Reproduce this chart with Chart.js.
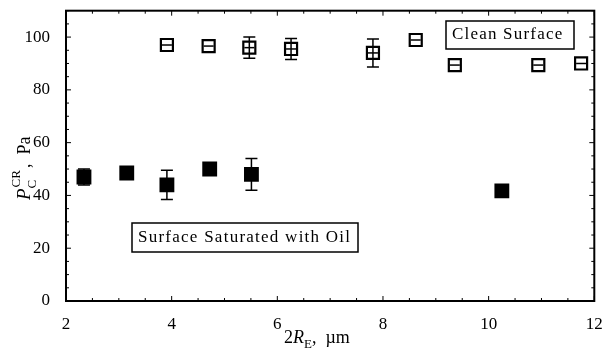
<!DOCTYPE html>
<html>
<head>
<meta charset="utf-8">
<script src="https://cdn.jsdelivr.net/npm/chart.js@4"></script>
<style>
  body { margin: 0; background: #fff; }
  #wrap { width: 605px; height: 348px; }
</style>
</head>
<body>
<div id="wrap"><canvas id="grafico"></canvas></div>
<script>
// clean surface (open squares)
const cleanX = [3.91, 4.70, 5.47, 6.26, 7.81, 8.62, 9.36, 10.94, 11.75];
const cleanY = [97, 96.6, 96, 95.5, 94, 98.9, 89.4, 89.4, 90];
const cleanErr = [1, 1, 4, 4, 5.3, 1, 1, 1, 1];
// surface saturated with oil (filled squares)
const oilX = [2.34, 3.15, 3.91, 4.72, 5.51, 10.25];
const oilY = [47, 48.5, 44, 50, 48, 41.7];
const oilErr = [3, 1, 5.5, 1.5, 6, 1];
const xTicks = [2, 4, 6, 8, 10, 12];
const yTicks = [0, 20, 40, 60, 80, 100];

const FONT = '"Liberation Serif", "DejaVu Serif", serif';

function pontos(xs, ys) {
    return xs.map((x, i) => ({ x: x, y: ys[i] }));
}

// error bars, inward ticks, text boxes, axis titles
const extras = {
    id: 'extras',
    afterDatasetsDraw(chart) {
        const ctx = chart.ctx;
        const sx = chart.scales.x, sy = chart.scales.y;
        const a = chart.chartArea;
        ctx.save();
        ctx.strokeStyle = '#000';
        ctx.lineWidth = 1.5;

        function barras(xs, ys, errs) {
            xs.forEach((x, i) => {
                if (errs[i] < 2) return;
                const px = sx.getPixelForValue(x);
                const top = sy.getPixelForValue(ys[i] + errs[i]);
                const bot = sy.getPixelForValue(ys[i] - errs[i]);
                ctx.beginPath();
                ctx.moveTo(px, top); ctx.lineTo(px, bot);
                ctx.moveTo(px - 6, top); ctx.lineTo(px + 6, top);
                ctx.moveTo(px - 6, bot); ctx.lineTo(px + 6, bot);
                ctx.stroke();
            });
        }
        barras(cleanX, cleanY, cleanErr);
        barras(oilX, oilY, oilErr);

        // line inside open squares
        ctx.lineWidth = 1.5;
        cleanX.forEach((x, i) => {
            const px = sx.getPixelForValue(x);
            const py = sy.getPixelForValue(cleanY[i]);
            ctx.beginPath();
            ctx.moveTo(px - 5, py); ctx.lineTo(px + 5, py);
            ctx.stroke();
        });

        // frame
        ctx.lineWidth = 2;
        ctx.strokeRect(a.left, a.top, a.right - a.left, a.bottom - a.top);

        // inward ticks
        ctx.lineWidth = 1;
        for (let v = 2; v <= 12; v += 0.5) {
            const px = sx.getPixelForValue(v);
            const len = Number.isInteger(v / 2) ? 5 : 3;
            ctx.beginPath();
            ctx.moveTo(px, a.bottom); ctx.lineTo(px, a.bottom - len);
            ctx.moveTo(px, a.top); ctx.lineTo(px, a.top + len);
            ctx.stroke();
        }
        for (let v = 0; v <= 110; v += 5) {
            const py = sy.getPixelForValue(v);
            const len = v % 20 === 0 ? 5 : 3;
            ctx.beginPath();
            ctx.moveTo(a.left, py); ctx.lineTo(a.left + len, py);
            ctx.moveTo(a.right, py); ctx.lineTo(a.right - len, py);
            ctx.stroke();
        }

        // text boxes
        ctx.font = '17px ' + FONT;
        ctx.textBaseline = 'middle';
        ctx.textAlign = 'left';
        ctx.lineWidth = 1.5;
        ctx.fillStyle = '#fff';
        ctx.fillRect(446, 21, 128, 28);
        ctx.fillRect(132, 223, 226, 29);
        ctx.strokeRect(446, 21, 128, 28);
        ctx.strokeRect(132, 223, 226, 29);
        ctx.fillStyle = '#000';
        drawSpaced(ctx, 'Clean Surface', 452, 35, 1.2);
        drawSpaced(ctx, 'Surface Saturated with Oil', 138, 238, 1.25);

        // x title: 2R_E, μm
        ctx.textBaseline = 'alphabetic';
        let x = 284;
        const yb = 343;
        ctx.font = '18px ' + FONT;
        ctx.fillText('2', x, yb); x += ctx.measureText('2').width;
        ctx.font = 'italic 18px ' + FONT;
        ctx.fillText('R', x, yb); x += ctx.measureText('R').width;
        ctx.font = '13px ' + FONT;
        ctx.fillText('E', x, yb + 5); x += ctx.measureText('E').width;
        ctx.font = '18px ' + FONT;
        ctx.fillText(',  \u00b5m', x, yb);

        // y title: P_C^CR, Pa (rotated)
        ctx.translate(30, 200);
        ctx.rotate(-Math.PI / 2);
        x = 0;
        ctx.font = 'italic 19px ' + FONT;
        ctx.fillText('P', x, 0); x += ctx.measureText('P').width;
        ctx.font = '13px ' + FONT;
        ctx.fillText('C', x, 6);
        ctx.fillText('CR', x + 1, -10); x += ctx.measureText('CR').width + 3;
        ctx.font = '18px ' + FONT;
        ctx.fillText(',  Pa', x, 0);
        ctx.restore();
    }
};

function drawSpaced(ctx, txt, x, y, gap) {
    for (const ch of txt) {
        ctx.fillText(ch, x, y);
        x += ctx.measureText(ch).width + gap;
    }
}

new Chart(document.getElementById('grafico'), {
    type: 'scatter',
    data: {
        datasets: [
            {
                label: 'Clean Surface',
                data: pontos(cleanX, cleanY),
                pointStyle: 'rect',
                pointRadius: 8.5,
                pointBorderWidth: 2.2,
                borderColor: '#000',
                backgroundColor: '#fff'
            },
            {
                label: 'Surface Saturated with Oil',
                data: pontos(oilX, oilY),
                pointStyle: 'rect',
                pointRadius: 10.5,
                pointBorderWidth: 0,
                borderColor: '#000',
                backgroundColor: '#000'
            }
        ]
    },
    options: {
        responsive: true,
        maintainAspectRatio: false,
        animation: false,
        layout: { padding: { top: 10, right: 9, left: 0, bottom: 0 } },
        plugins: {
            legend: { display: false },
            tooltip: { enabled: false }
        },
        scales: {
            x: {
                type: 'linear',
                min: 2,
                max: 12,
                afterBuildTicks: s => { s.ticks = xTicks.map(v => ({ value: v })); },
                afterFit: s => {
                    s.height = 47;
                    s.paddingLeft = 0; s.paddingRight = 0;
                },
                grid: { display: false },
                border: { display: false },
                ticks: { color: '#000', font: { family: FONT, size: 17 }, padding: 5 }
            },
            y: {
                min: 0,
                max: 110,
                afterBuildTicks: s => { s.ticks = yTicks.map(v => ({ value: v })); },
                afterFit: s => {
                    s.width = 66;
                    s.paddingTop = 0; s.paddingBottom = 0;
                },
                grid: { display: false },
                border: { display: false },
                ticks: { color: '#000', font: { family: FONT, size: 17 }, padding: 8 }
            }
        }
    },
    plugins: [extras]
});
</script>
</body>
</html>
